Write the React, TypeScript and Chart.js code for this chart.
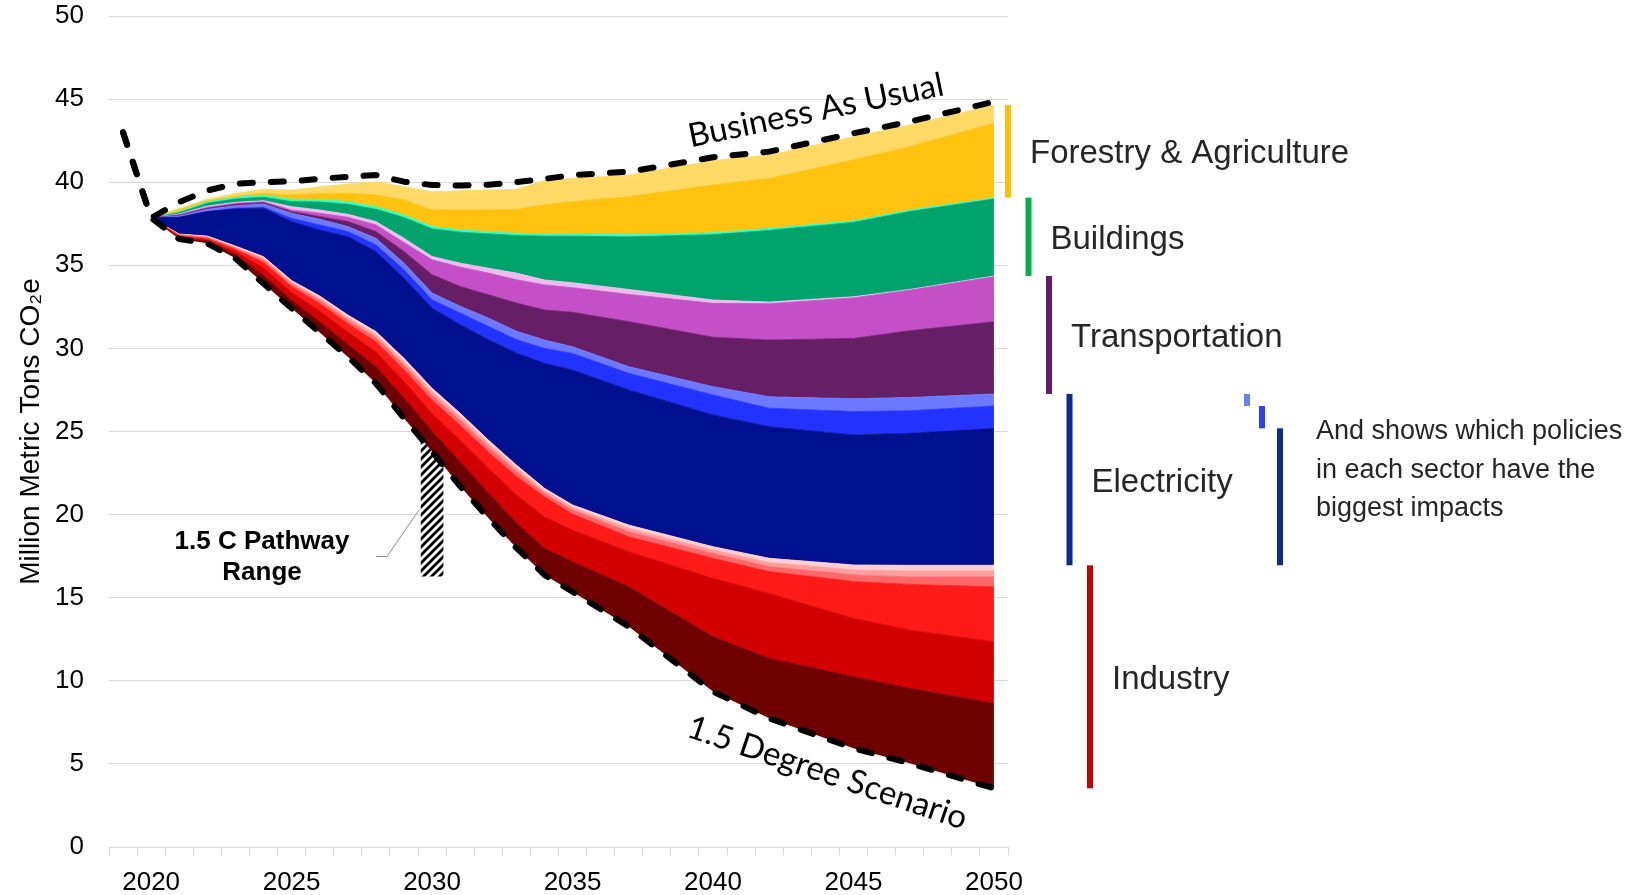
import React, { useEffect, useRef } from 'react';
import { Chart, registerables } from 'chart.js';

Chart.register(...registerables);

// ---------------- data ----------------
// years of the two dashed scenario lines (2019 is the historical point)
const lineYears = [2019, 2020, 2021, 2022, 2023, 2024, 2025, 2026, 2027, 2028, 2029, 2030, 2031, 2032, 2033, 2034, 2035, 2037, 2040, 2042, 2045, 2047, 2050];
// years of the stacked policy wedges
const stackYears = [2020, 2021, 2022, 2023, 2024, 2025, 2026, 2027, 2028, 2029, 2030, 2031, 2032, 2033, 2034, 2035, 2037, 2040, 2042, 2045, 2047, 2050];

const businessAsUsual = [43.0, 37.85, 38.8, 39.5, 39.9, 40.0, 40.05, 40.2, 40.33, 40.43, 40.03, 39.83, 39.8, 39.85, 40.0, 40.2, 40.43, 40.63, 41.5, 41.84, 42.94, 43.64, 44.84];
const degree15 = [43.0, 37.85, 36.58, 36.32, 35.42, 33.9, 32.41, 30.95, 29.5, 27.9, 25.8, 23.8, 21.7, 19.8, 18.0, 16.37, 15.36, 13.26, 9.35, 7.74, 5.94, 5.04, 3.53];

// wedge thicknesses (million metric tons CO2e), bottom to top
const industryMaroon = [0, 0.07, 0.12, 0.22, 0.5, 0.5, 0.65, 0.75, 1.0, 1.22, 1.2, 1.48, 1.52, 1.5, 1.6, 1.81, 2.4, 3.3, 3.61, 4.31, 4.51, 5.12];
const industryRed = [0, 0.07, 0.1, 0.18, 0.45, 0.47, 0.65, 0.75, 0.9, 1.0, 1.08, 1.3, 1.5, 1.7, 1.9, 1.9, 2.11, 3.52, 3.91, 3.51, 3.51, 3.7];
const industryBrightRed = [0, 0.06, 0.08, 0.14, 0.33, 0.35, 0.45, 0.5, 0.6, 0.7, 0.8, 0.9, 0.95, 1.1, 1.21, 0.96, 0.9, 1.2, 1.31, 2.21, 2.74, 3.31];
const industrySalmon = [0, 0.04, 0.06, 0.08, 0.14, 0.15, 0.2, 0.21, 0.25, 0.28, 0.3, 0.3, 0.3, 0.3, 0.2, 0.25, 0.3, 0.3, 0.3, 0.4, 0.45, 0.59];
const industryPink = [0, 0.03, 0.04, 0.06, 0.1, 0.1, 0.13, 0.15, 0.18, 0.2, 0.22, 0.22, 0.22, 0.2, 0.15, 0.15, 0.2, 0.2, 0.25, 0.3, 0.35, 0.35];
const industryLightPink = [0, 0.03, 0.04, 0.06, 0.1, 0.1, 0.12, 0.15, 0.18, 0.2, 0.2, 0.2, 0.2, 0.18, 0.15, 0.15, 0.2, 0.2, 0.25, 0.3, 0.35, 0.35];
const electricityNavy = [0, 1.01, 1.47, 2.23, 2.91, 3.55, 3.98, 4.72, 4.82, 4.83, 4.83, 5.33, 6.04, 6.75, 7.52, 8.12, 8.13, 7.93, 7.92, 7.82, 7.94, 8.24];
const electricityBlue = [0, 0, 0, 0.04, 0.06, 0.2, 0.3, 0.3, 0.4, 0.5, 0.5, 0.7, 0.8, 0.8, 0.9, 1.0, 1.0, 1.2, 1.11, 1.41, 1.36, 1.34];
const electricityLightBlue = [0, 0.08, 0.14, 0.16, 0.2, 0.3, 0.34, 0.3, 0.4, 0.4, 0.4, 0.4, 0.5, 0.5, 0.5, 0.4, 0.4, 0.5, 0.69, 0.77, 0.8, 0.73];
const transportPurple = [0, 0.04, 0.06, 0.08, 0.08, 0.1, 0.16, 0.3, 0.4, 0.7, 1.1, 1.2, 1.4, 1.7, 1.81, 2.07, 2.71, 2.97, 3.41, 3.63, 4.01, 4.34];
const transportMagenta = [0, 0.04, 0.06, 0.06, 0.06, 0.1, 0.2, 0.26, 0.4, 0.54, 0.9, 1.16, 1.3, 1.4, 1.51, 1.48, 1.64, 2.04, 2.19, 2.44, 2.44, 2.71];
const transportLightPink = [0, 0.04, 0.08, 0.06, 0.06, 0.2, 0.2, 0.18, 0.2, 0.26, 0.2, 0.24, 0.3, 0.4, 0.3, 0.3, 0.3, 0.2, 0.1, 0.07, 0.05, 0.05];
const buildingsGreen = [0, 0.08, 0.16, 0.2, 0.2, 0.3, 0.48, 0.6, 0.74, 1.24, 1.66, 1.86, 2.06, 2.26, 2.63, 2.8, 3.16, 3.93, 4.31, 4.47, 4.68, 4.63];
const buildingsAqua = [0, 0.06, 0.1, 0.1, 0.14, 0.14, 0.16, 0.16, 0.16, 0.16, 0.14, 0.14, 0.14, 0.14, 0.15, 0.15, 0.15, 0.12, 0.12, 0.1, 0.1, 0.08];
const forestryYellow = [0, 0.1, 0.06, 0.08, 0.1, 0.26, 0.36, 0.5, 0.7, 0.9, 1.0, 1.2, 1.3, 1.44, 1.73, 1.93, 2.27, 2.87, 3.01, 3.66, 3.81, 4.47];
const forestryLightYellow = [0, 0.1, 0.08, 0.16, 0.24, 0.3, 0.4, 0.56, 0.8, 0.8, 1.1, 1.16, 1.2, 1.2, 1.47, 1.4, 1.3, 1.47, 1.41, 1.4, 1.3, 1.1];

const pathwayYear = 2030;
const pathwayRange = [16.3, 24.4];

const xLabelYears = [2020, 2025, 2030, 2035, 2040, 2045, 2050];
const yMin = 0;
const yMax = 50;
const yStep = 5;

const sectorNames = ['Forestry & Agriculture', 'Buildings', 'Transportation', 'Electricity', 'Industry'];
const sectorLayerKeys = [
  ['forestryYellow', 'forestryLightYellow'],
  ['buildingsGreen', 'buildingsAqua'],
  ['transportPurple', 'transportMagenta', 'transportLightPink'],
  ['electricityNavy', 'electricityBlue', 'electricityLightBlue'],
  ['industryMaroon', 'industryRed', 'industryBrightRed', 'industrySalmon', 'industryPink', 'industryLightPink'],
];
const electricityPolicyKeys = ['electricityLightBlue', 'electricityBlue', 'electricityNavy'];
const noteLines = ['And shows which policies', 'in each sector have the', 'biggest impacts'];

// ---------------- styles ----------------
const layers = [
  { key: 'industryMaroon', values: industryMaroon, color: '#6e0000' },
  { key: 'industryRed', values: industryRed, color: '#d20000' },
  { key: 'industryBrightRed', values: industryBrightRed, color: '#ff1a1a' },
  { key: 'industrySalmon', values: industrySalmon, color: '#ff6868' },
  { key: 'industryPink', values: industryPink, color: '#ff9e9e' },
  { key: 'industryLightPink', values: industryLightPink, color: '#ffcfcf' },
  { key: 'electricityNavy', values: electricityNavy, color: '#00108f' },
  { key: 'electricityBlue', values: electricityBlue, color: '#2233ff' },
  { key: 'electricityLightBlue', values: electricityLightBlue, color: '#6b78ff' },
  { key: 'transportPurple', values: transportPurple, color: '#661f66' },
  { key: 'transportMagenta', values: transportMagenta, color: '#c44fc6' },
  { key: 'transportLightPink', values: transportLightPink, color: '#ecbcee' },
  { key: 'buildingsGreen', values: buildingsGreen, color: '#00a36c' },
  { key: 'buildingsAqua', values: buildingsAqua, color: '#33ffbb' },
  { key: 'forestryYellow', values: forestryYellow, color: '#ffc20e' },
  { key: 'forestryLightYellow', values: forestryLightYellow, color: '#ffd966' },
];
const sectorColors = ['#ffc000', '#00b050', '#5e1e6d', '#0d2b8f', '#c80000'];
const electricityPolicyColors = ['#6f7dff', '#2a3fff', '#0d2b8f'];
const FONT = '"Liberation Sans", Arial, sans-serif';
const TEXT = '#262626';

function makeHatch(): CanvasPattern | string {
  const s = 8;
  const c = document.createElement('canvas');
  c.width = s;
  c.height = s;
  const g = c.getContext('2d');
  if (!g) return '#000';
  g.fillStyle = '#ffffff';
  g.fillRect(0, 0, s, s);
  g.strokeStyle = '#000000';
  g.lineWidth = 2.8;
  g.beginPath();
  g.moveTo(-s / 2, s / 2);
  g.lineTo(s / 2, -s / 2);
  g.moveTo(0, s);
  g.lineTo(s, 0);
  g.moveTo(s / 2, s * 1.5);
  g.lineTo(s * 1.5, s / 2);
  g.stroke();
  const p = g.createPattern(c, 'repeat');
  return p || '#000';
}

const xy = (xs: number[], ys: number[]) => xs.map((x, i) => ({ x, y: ys[i] }));

const annotationPlugin = {
  id: 'annotations',
  afterDraw(chart: any) {
    const { ctx, chartArea, scales } = chart;
    const y = scales.y;
    const last = stackYears.length - 1;
    const bounds: Record<string, [number, number]> = {};
    let acc = degree15[lineYears.indexOf(stackYears[last])];
    for (const l of layers) {
      bounds[l.key] = [acc, acc + l.values[last]];
      acc += l.values[last];
    }
    ctx.save();

    // sector bars and labels
    sectorNames.forEach((name: string, i: number) => {
      const keys = sectorLayerKeys[i];
      const lo = Math.min(...keys.map((k) => bounds[k][0]));
      const hi = Math.max(...keys.map((k) => bounds[k][1]));
      const top = y.getPixelForValue(hi);
      const bottom = y.getPixelForValue(lo);
      const cx = chartArea.right + i * 20.5;
      ctx.fillStyle = sectorColors[i];
      ctx.fillRect(cx - 3, top, 6, bottom - top);
      ctx.fillStyle = TEXT;
      ctx.font = `33px ${FONT}`;
      ctx.textAlign = 'left';
      ctx.textBaseline = 'middle';
      ctx.fillText(name, cx + 22, (top + bottom) / 2 + 3);
    });

    // electricity policy bars
    const policyX = [239, 254, 272];
    electricityPolicyKeys.forEach((k, i) => {
      const top = y.getPixelForValue(bounds[k][1]);
      const bottom = y.getPixelForValue(bounds[k][0]);
      ctx.fillStyle = electricityPolicyColors[i];
      ctx.fillRect(chartArea.right + policyX[i] - 3, top, 6, bottom - top);
    });
    ctx.fillStyle = TEXT;
    ctx.font = `27px ${FONT}`;
    ctx.textAlign = 'left';
    ctx.textBaseline = 'alphabetic';
    noteLines.forEach((t, i) => ctx.fillText(t, chartArea.right + 308, 439 + i * 38.5));

    // scenario labels
    ctx.fillStyle = '#000';
    ctx.font = `33px Lato, ${FONT}`;
    ctx.textAlign = 'center';
    ctx.save();
    ctx.translate(818, 121);
    ctx.rotate((-11.6 * Math.PI) / 180);
    ctx.fillText('Business As Usual', 0, 0);
    ctx.restore();
    ctx.save();
    ctx.translate(824, 783);
    ctx.rotate((18.6 * Math.PI) / 180);
    ctx.fillText('1.5 Degree Scenario', 0, 0);
    ctx.restore();

    // pathway label + leader
    ctx.font = `bold 26px ${FONT}`;
    ctx.fillText('1.5 C Pathway', 262, 549);
    ctx.fillText('Range', 262, 580);
    ctx.strokeStyle = '#8c8c8c';
    ctx.lineWidth = 1;
    ctx.beginPath();
    ctx.moveTo(376, 556.5);
    ctx.lineTo(387, 556.5);
    ctx.lineTo(419, 510);
    ctx.stroke();

    ctx.restore();
  },
};

export default function App() {
  const ref = useRef<HTMLCanvasElement>(null);

  useEffect(() => {
    const canvas = ref.current;
    if (!canvas) return;
    Chart.defaults.font.family = FONT;
    const hatch = makeHatch();
    const dashed = {
      type: 'line' as const,
      borderColor: '#000',
      borderWidth: 6,
      borderDash: [13, 18],
      borderCapStyle: 'round' as const,
      borderJoinStyle: 'round' as const,
      pointRadius: 0,
      fill: false,
      tension: 0,
    };
    const datasets: any[] = [
      { ...dashed, label: 'Business As Usual', data: xy(lineYears, businessAsUsual), stack: 'bau' },
      { ...dashed, label: '1.5 Degree Scenario', data: xy(lineYears, degree15), stack: 'deg' },
      {
        type: 'line',
        label: 'base',
        data: xy(stackYears, stackYears.map((yr) => degree15[lineYears.indexOf(yr)])),
        stack: 'main',
        borderWidth: 0,
        pointRadius: 0,
        fill: false,
      },
      ...layers.map((l) => ({
        type: 'line',
        label: l.key,
        data: xy(stackYears, l.values),
        stack: 'main',
        backgroundColor: l.color,
        borderColor: l.color,
        borderWidth: 0.8,
        pointRadius: 0,
        fill: '-1',
        tension: 0,
      })),
      {
        type: 'bar',
        label: '1.5 C Pathway Range',
        data: [{ x: pathwayYear, y: pathwayRange }],
        stack: 'range',
        backgroundColor: hatch,
        borderWidth: 0,
        barThickness: 22,
      },
    ];

    const chart = new Chart(canvas, {
      type: 'line',
      data: { datasets },
      options: {
        animation: false,
        responsive: false,
        devicePixelRatio: 1,
        events: [],
        layout: { padding: { left: 0, top: 16, right: 634, bottom: 0 } },
        plugins: { legend: { display: false }, tooltip: { enabled: false } },
        scales: {
          x: {
            type: 'linear',
            min: 2018.5,
            max: 2050.5,
            offset: false,
            afterFit: (s: any) => {
              s.height = 48;
              s.paddingLeft = 0;
              s.paddingRight = 0;
            },
            grid: {
              offset: false,
              drawOnChartArea: false,
              drawTicks: true,
              tickLength: 8,
              tickColor: (c: any) => (c.tick && Number.isInteger(c.tick.value) ? 'rgba(0,0,0,0)' : '#d9d9d9'),
              color: '#d9d9d9',
            },
            border: { display: true, color: '#d9d9d9', width: 1 },
            ticks: {
              stepSize: 0.5,
              autoSkip: false,
              maxRotation: 0,
              minRotation: 0,
              padding: 12,
              color: '#000',
              font: { size: 26, family: FONT },
              callback: (v: any) => (xLabelYears.includes(Number(v)) ? String(v) : ''),
            },
          },
          y: {
            type: 'linear',
            stacked: true,
            min: yMin,
            max: yMax,
            afterFit: (s: any) => {
              s.width = 109;
              s.paddingTop = 0;
              s.paddingBottom = 0;
            },
            grid: { color: '#d9d9d9', lineWidth: 1, drawTicks: false },
            border: { display: false },
            ticks: {
              stepSize: yStep,
              padding: 25,
              color: '#000',
              font: { size: 26, family: FONT },
            },
            title: {
              display: true,
              text: 'Million Metric Tons CO₂e',
              color: '#000',
              font: { size: 28, family: FONT },
              padding: { top: 14, bottom: 0 },
            },
          },
        },
      },
      plugins: [annotationPlugin],
    } as any);

    return () => chart.destroy();
  }, []);

  return (
    <div style={{ position: 'absolute', left: 0, top: 0, width: 1642, height: 895, background: '#fff' }}>
      <canvas ref={ref} width={1642} height={895} style={{ display: 'block', width: 1642, height: 895 }} />
    </div>
  );
}
